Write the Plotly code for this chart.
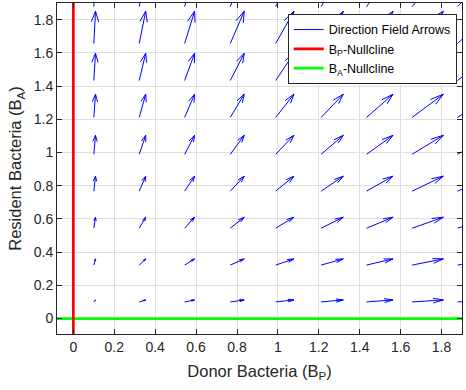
import plotly.graph_objects as go

# Grid of arrow tail positions (data units)
x_grid = [0.1, 0.322, 0.544, 0.767, 0.989, 1.211, 1.433, 1.656, 1.878]
y_grid = [0.1, 0.322, 0.544, 0.767, 0.989, 1.211, 1.433, 1.656, 1.878]
# Displayed arrow components (data units)
u_by_col = [0.0083, 0.0317, 0.0488, 0.0683, 0.0893, 0.1088, 0.130, 0.153, 0.173]
v_by_row = [0.012, 0.0373, 0.0663, 0.0904, 0.1145, 0.140, 0.1645, 0.1946, 0.22]

x_ticks = [0, 0.2, 0.4, 0.6, 0.8, 1, 1.2, 1.4, 1.6, 1.8]
y_ticks = [0, 0.2, 0.4, 0.6, 0.8, 1, 1.2, 1.4, 1.6, 1.8]
x_range = [-0.08, 1.9]
y_range = [-0.093, 1.9]

alpha, beta = 0.33, 0.28
ax_x, ax_y = [], []
for j, y in enumerate(y_grid):
    for i, x in enumerate(x_grid):
        u, v = u_by_col[i], v_by_row[j]
        hx, hy = x + u, y + v
        ax_x += [x, hx, None]
        ax_y += [y, hy, None]
        ax_x += [hx - alpha * (u + beta * v), hx, hx - alpha * (u - beta * v), None]
        ax_y += [hy - alpha * (v - beta * u), hy, hy - alpha * (v + beta * u), None]

FONT = "Liberation Sans, Arial"
fig = go.Figure()
fig.add_trace(go.Scatter(x=ax_x, y=ax_y, mode="lines", line=dict(color="#0000ff", width=1),
                         name="Direction Field Arrows", legendrank=1, hoverinfo="skip"))
fig.add_trace(go.Scatter(x=[x_range[0], x_range[1]], y=[0, 0], mode="lines",
                         line=dict(color="#00ff00", width=2.7),
                         name="B<sub>A</sub>-Nullcline", legendrank=3))
fig.add_trace(go.Scatter(x=[0, 0], y=[y_range[0], y_range[1]], mode="lines",
                         line=dict(color="#ff0000", width=2.7),
                         name="B<sub>P</sub>-Nullcline", legendrank=2))

axis_common = dict(
    showgrid=True, gridcolor="#dfdfdf", gridwidth=1,
    showline=True, linecolor="#262626", linewidth=1, mirror="ticks",
    ticks="inside", ticklen=5, tickcolor="#262626", tickwidth=1,
    zeroline=False, tickfont=dict(family=FONT, size=14, color="#262626"),
)
fig.update_xaxes(range=x_range, tickvals=x_ticks, ticktext=[f"{t:g}" for t in x_ticks],
                 title=dict(text="Donor Bacteria (B<sub>P</sub>)", standoff=11,
                            font=dict(family=FONT, size=16.5, color="#262626")),
                 **axis_common)
fig.update_yaxes(range=y_range, tickvals=y_ticks, ticktext=[f"{t:g}" for t in y_ticks],
                 title=dict(text="Resident Bacteria (B<sub>A</sub>)", standoff=7,
                            font=dict(family=FONT, size=16.5, color="#262626")),
                 **axis_common)

fig.update_layout(
    width=466, height=390,
    margin=dict(l=57, r=4, t=3, b=56),
    plot_bgcolor="white", paper_bgcolor="white",
    showlegend=True,
    legend=dict(x=0.987, y=0.967, xanchor="right", yanchor="top",
                bgcolor="white", bordercolor="#262626", borderwidth=1,
                font=dict(family=FONT, size=12.5, color="#000000"),
                tracegroupgap=0, itemwidth=30),
)
fig.write_html("out.html")
